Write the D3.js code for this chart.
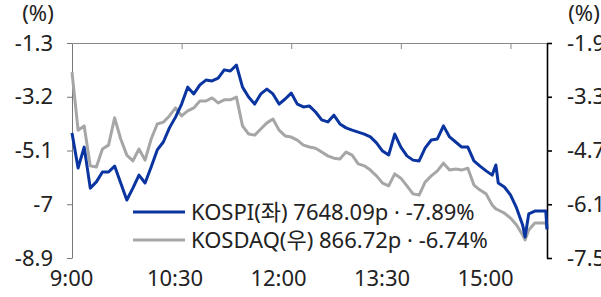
<!DOCTYPE html>
<html>
<head>
<meta charset="utf-8">
<script src="https://cdn.jsdelivr.net/npm/d3@7"></script>
<style>
  body { margin: 0; background: #fff; }
  text { font-family: "Noto Sans", "Noto Sans CJK KR", sans-serif; fill: #222; }
</style>
</head>
<body>
<script>
var times = ["9:00","9:05","9:10","9:15","9:20","9:25","9:30","9:35","9:40","9:45","9:50","9:55",
  "10:00","10:05","10:10","10:15","10:20","10:25","10:30","10:35","10:40","10:45","10:50","10:55",
  "11:00","11:05","11:10","11:15","11:20","11:25","11:30","11:35","11:40","11:45","11:50","11:55",
  "12:00","12:05","12:10","12:15","12:20","12:25","12:30","12:35","12:40","12:45","12:50","12:55",
  "13:00","13:05","13:10","13:15","13:20","13:25","13:30","13:35","13:40","13:45","13:50","13:55",
  "14:00","14:05","14:10","14:15","14:20","14:25","14:30","14:35","14:40","14:45","14:48","14:50","14:55",
  "15:00","15:05","15:10","15:12","15:15","15:20","15:25","15:29","15:30"];

// KOSPI (left axis, %)
var kospi = [-4.48,-5.72,-4.98,-6.43,-6.21,-5.86,-5.86,-5.65,-6.25,-6.85,-6.43,-5.97,
  -6.25,-5.68,-5.08,-4.80,-4.30,-3.92,-3.46,-2.86,-3.10,-2.78,-2.61,-2.64,
  -2.54,-2.25,-2.29,-2.08,-2.86,-3.21,-3.46,-3.10,-2.93,-3.10,-3.46,-3.28,
  -3.07,-3.46,-3.56,-3.53,-3.74,-4.02,-4.09,-3.85,-4.16,-4.30,-4.38,-4.45,
  -4.52,-4.62,-4.83,-5.12,-5.26,-4.52,-4.98,-5.29,-5.44,-5.47,-5.01,-4.73,
  -4.69,-4.23,-4.62,-4.80,-4.98,-4.98,-5.47,-5.65,-5.82,-5.97,-5.61,-6.25,-6.39,
  -6.67,-7.13,-7.73,-8.16,-7.34,-7.24,-7.24,-7.24,-7.89];

// KOSDAQ (right axis, %)
var kosdaq = [-2.66,-4.17,-4.06,-5.10,-5.13,-4.66,-4.56,-3.85,-4.40,-4.82,-4.97,-4.66,
  -4.95,-4.40,-4.01,-3.96,-3.80,-3.59,-3.80,-3.67,-3.59,-3.41,-3.41,-3.33,
  -3.46,-3.38,-3.38,-3.31,-4.06,-4.27,-4.30,-4.14,-3.98,-3.88,-4.17,-4.32,
  -4.35,-4.43,-4.56,-4.61,-4.64,-4.74,-4.84,-4.90,-4.92,-4.74,-4.82,-5.05,
  -5.10,-5.21,-5.36,-5.55,-5.62,-5.31,-5.42,-5.62,-5.83,-5.86,-5.52,-5.36,
  -5.23,-5.03,-5.21,-5.18,-5.21,-5.16,-5.60,-5.73,-5.83,-6.12,-6.22,-6.25,-6.33,
  -6.46,-6.64,-6.90,-7.03,-6.77,-6.59,-6.59,-6.59,-6.74];

var xTicks = ["9:00","10:30","12:00","13:30","15:00"];
var leftTicks = [-1.3,-3.2,-5.1,-7,-8.9];
var rightTicks = [-1.9,-3.3,-4.7,-6.1,-7.5];
var legendLabels = ["KOSPI(좌) 7648.09p · -7.89%", "KOSDAQ(우) 866.72p · -6.74%"];

var parseT = d3.timeParse("%H:%M");
var fs = '22px';

var svg = d3.select('body').append('svg').attr('width', 601).attr('height', 297);

var x = d3.scaleTime().domain([parseT("9:00"), parseT("15:30")]).range([72, 547]);
// labels sit on a slightly tighter spacing than the tick marks
var xLab = d3.scaleTime().domain([parseT("9:00"), parseT("15:00")]).range([71, 485]);
var yL = d3.scaleLinear().domain([-1.3, -8.9]).range([43, 258]);
var yR = d3.scaleLinear().domain([-1.9, -7.5]).range([43, 258]);

// top frame line with little ticks
var gTop = svg.append('g').attr('transform', 'translate(0,43)')
    .call(d3.axisBottom(x).tickValues(xTicks.slice(1).map(parseT)).tickSize(6).tickSizeOuter(0).tickFormat(''));
gTop.select('.domain').attr('stroke', '#888');
gTop.selectAll('.tick line').attr('stroke', '#888');

// left axis
var gl = svg.append('g').attr('transform', 'translate(72,0)')
    .call(d3.axisLeft(yL).tickValues(leftTicks).tickSize(5).tickSizeOuter(0).tickPadding(14).tickFormat(function(d){ return String(d); }));
gl.select('.domain').attr('stroke', '#777');
gl.selectAll('.tick line').attr('stroke', '#777');
gl.selectAll('text').style('font-size', fs);

// right axis (labels run off the right edge, as in the original)
var gr = svg.append('g').attr('transform', 'translate(547,0)')
    .call(d3.axisRight(yR).tickValues(rightTicks).tickSize(5).tickSizeOuter(0).tickPadding(15).tickFormat(function(d){ return String(d); }));
gr.select('.domain').attr('stroke', '#000').attr('stroke-width', 1.6);
gr.selectAll('.tick line').attr('stroke', '#000').attr('stroke-width', 1.6);
gr.selectAll('text').style('font-size', fs);

// x labels
var gx = svg.append('g').attr('transform', 'translate(0,270)')
    .call(d3.axisBottom(xLab).tickValues(xTicks.map(parseT)).tickSize(0).tickPadding(0).tickFormat(d3.timeFormat('%-H:%M')));
gx.select('.domain').remove();
gx.selectAll('text').style('font-size', fs);

svg.selectAll('.tick text').attr('fill', '#222');

// unit labels
svg.append('text').attr('x', 38).attr('y', 21).attr('text-anchor', 'middle').style('font-size', fs).text('(%)');
svg.append('text').attr('x', 584).attr('y', 21).attr('text-anchor', 'middle').style('font-size', fs).text('(%)');

var lineL = d3.line().x(function(d, i){ return x(parseT(times[i])); }).y(function(d){ return yL(d); });
var lineR = d3.line().x(function(d, i){ return x(parseT(times[i])); }).y(function(d){ return yR(d); });

svg.append('path').datum(kosdaq).attr('d', lineR)
    .attr('fill', 'none').attr('stroke', '#a6a6a6').attr('stroke-width', 3).attr('stroke-linejoin', 'round');
svg.append('path').datum(kospi).attr('d', lineL)
    .attr('fill', 'none').attr('stroke', '#0a34a0').attr('stroke-width', 3).attr('stroke-linejoin', 'round');

// legend
var colors = ['#0a34a0', '#a6a6a6'];
var lg = svg.selectAll('g.legend').data(legendLabels).enter().append('g')
    .attr('class', 'legend')
    .attr('transform', function(d, i){ return 'translate(133,' + (212 + i * 28) + ')'; });
lg.append('line').attr('x1', 0).attr('x2', 52).attr('y1', 0).attr('y2', 0)
    .attr('stroke', function(d, i){ return colors[i]; }).attr('stroke-width', 3);
lg.append('text').attr('x', 58).attr('dy', '0.35em').style('font-size', fs).text(function(d){ return d; });
</script>
</body>
</html>
